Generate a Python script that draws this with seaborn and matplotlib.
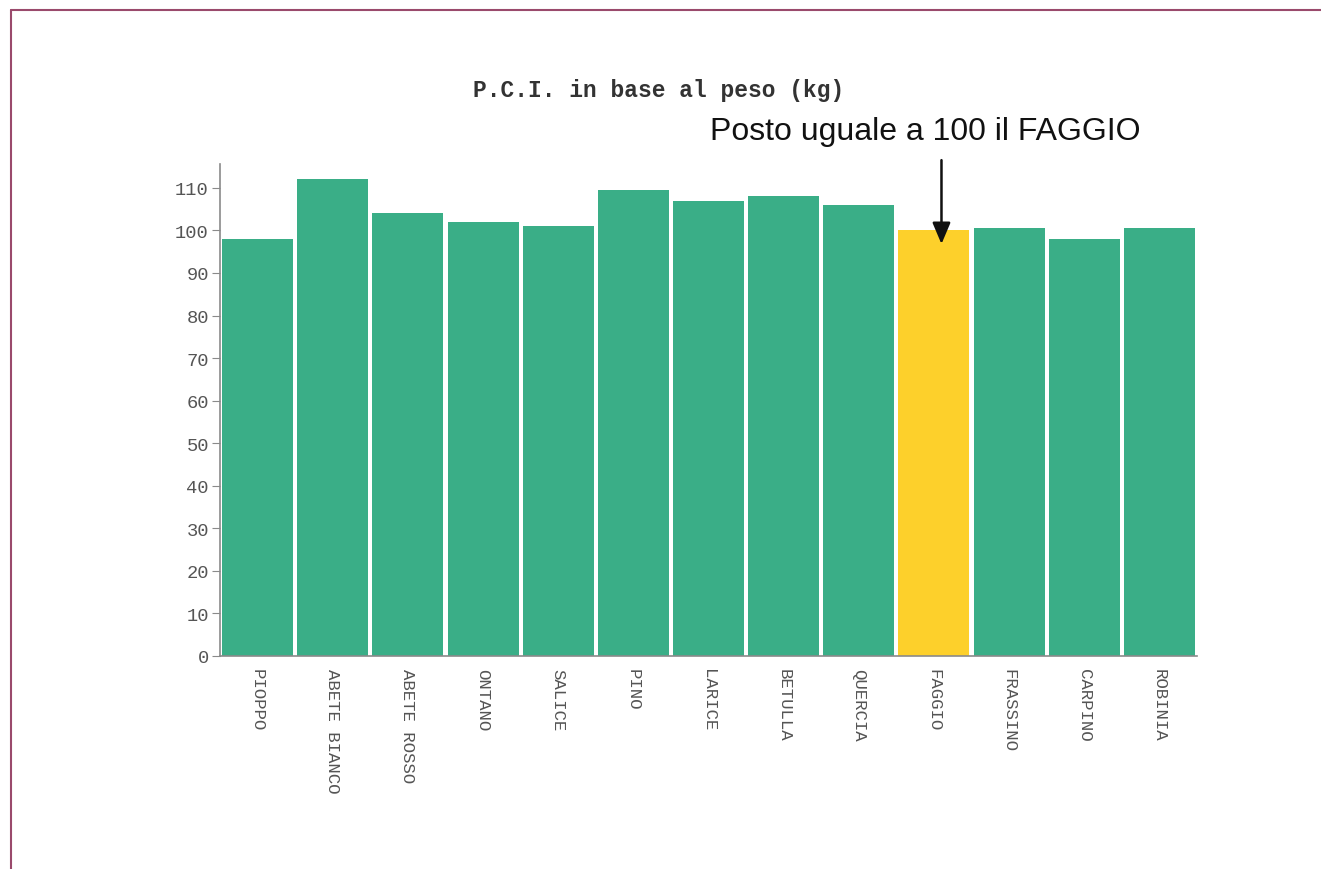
import matplotlib
matplotlib.use("Agg")
import matplotlib.pyplot as plt
import seaborn as sns
import pandas as pd
from matplotlib.lines import Line2D
from matplotlib.ticker import FixedLocator

categories = ["PIOPPO", "ABETE BIANCO", "ABETE ROSSO", "ONTANO", "SALICE", "PINO",
              "LARICE", "BETULLA", "QUERCIA", "FAGGIO", "FRASSINO", "CARPINO", "ROBINIA"]
values = [98, 112, 104, 102, 101, 109.5, 107, 108, 106, 100, 100.5, 98, 100.5]
highlight = "FAGGIO"
title = "P.C.I. in base al peso (kg)"
note = "Posto uguale a 100 il FAGGIO"
yticks = list(range(0, 111, 10))

GREEN = "#3aae87"
YELLOW = "#fdd02b"
FRAME = "#9a4a6c"
AXIS = "#8a8a8a"
TEXT = "#555555"

sns.set_style("white")
plt.rcParams["font.family"] = ["Liberation Mono", "DejaVu Sans"]

df = pd.DataFrame({"cat": categories, "val": values})
palette = {c: (YELLOW if c == highlight else GREEN) for c in categories}

fig = plt.figure(figsize=(13.21, 8.70), dpi=100)
ax = fig.add_axes([220 / 1321, 1 - 657 / 870, (1197 - 220) / 1321, (657 - 165) / 870])

sns.barplot(data=df, x="cat", y="val", hue="cat", palette=palette, legend=False,
            width=0.945, saturation=1, ax=ax, edgecolor="none")

ax.set_xlim(-0.5, len(categories) - 0.5)
ax.set_ylim(0, 115.6)
ax.set_yticks(yticks)
ax.set_yticklabels([str(t) for t in yticks], fontsize=13.5, color=TEXT)
ax.set_xticks(range(len(categories)))
ax.set_xticklabels(categories, rotation=270, fontsize=12.5, color=TEXT, va="top", ha="center")
ax.xaxis.set_minor_locator(FixedLocator([i - 0.5 for i in range(len(categories) + 1)]))
ax.tick_params(axis="x", which="major", length=0, pad=9)
ax.tick_params(axis="x", which="minor", length=5, color="#e08a9a", direction="out", width=1)
ax.tick_params(axis="y", length=6, color=AXIS, direction="out", pad=2, left=True)
ax.set_xlabel("")
ax.set_ylabel("")
for s in ["top", "right"]:
    ax.spines[s].set_visible(False)
for s in ["left", "bottom"]:
    ax.spines[s].set_color(AXIS)
    ax.spines[s].set_linewidth(1.2)

# title and annotation
fig.text(659 / 1321, 1 - 90 / 870, title, ha="center", va="center", fontsize=16.5,
         fontweight="bold", color="#333333", family=["Liberation Mono"])
fig.text(925 / 1321, 1 - 132 / 870, note, ha="center", va="center", fontsize=23,
         color="#111111", family=["Liberation Sans"])
idx = categories.index(highlight)
ax.annotate("", xy=(idx + 0.1, 96.8), xytext=(idx + 0.1, 116.5),
            xycoords="data", textcoords="data", annotation_clip=False,
            arrowprops=dict(arrowstyle="-|>,head_length=1.3,head_width=0.55",
                            color="#111111", lw=1.8, shrinkA=0, shrinkB=0))

# page frame
fig.add_artist(Line2D([11 / 1321, 1], [1 - 11 / 870, 1 - 11 / 870], color=FRAME, lw=1.5,
                      transform=fig.transFigure))
fig.add_artist(Line2D([11 / 1321, 11 / 1321], [0, 1 - 11 / 870], color=FRAME, lw=1.5,
                      transform=fig.transFigure))

fig.savefig("out.png", dpi=100)
